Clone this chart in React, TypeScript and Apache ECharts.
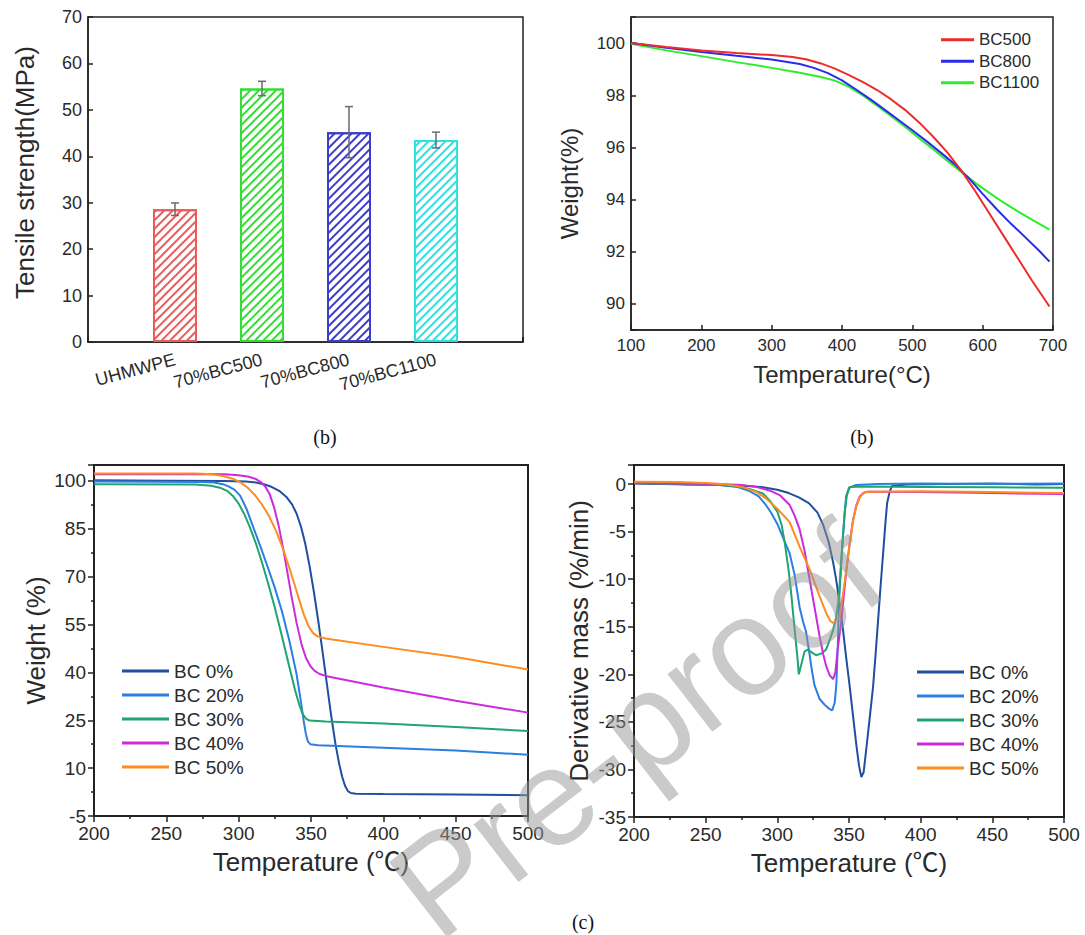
import React, { useEffect, useRef } from 'react';
import * as echarts from 'echarts';

// ---------- Panel A: tensile strength bars ----------
const barCategories = [' ', 'UHMWPE', '70%BC500', '70%BC800', '70%BC1100', '  '];
const barValues: (number | null)[] = [null, 28.6, 54.6, 45.2, 43.5, null];
const barErrors: (number | null)[] = [null, 1.35, 1.55, 5.5, 1.7, null];
const barColors = ['', '#e85c5c', '#33dd33', '#3d3dcc', '#2ee0e0', ''];

// ---------- Panel B: TGA of biochars ----------
const bNames = ['BC500', 'BC800', 'BC1100'];
const bColors = ['#ee2b2b', '#2b2bee', '#2bee2b'];
const bc500 = [[100,100],[150,99.85],[200,99.72],[250,99.62],[300,99.54],[330,99.47],[350,99.37],[370,99.22],[390,99.02],[410,98.77],[430,98.5],[450,98.2],[470,97.84],[490,97.43],[510,96.95],[530,96.4],[550,95.8],[570,95.1],[590,94.3],[610,93.45],[630,92.6],[650,91.75],[670,90.9],[695,89.9]];
const bc800 = [[100,100],[150,99.82],[200,99.66],[250,99.51],[300,99.37],[340,99.2],[360,99.05],[380,98.85],[400,98.57],[420,98.22],[440,97.85],[460,97.46],[480,97.06],[500,96.66],[520,96.24],[540,95.81],[560,95.36],[580,94.83],[600,94.22],[620,93.63],[640,93.08],[660,92.57],[680,92.05],[695,91.62]];
const bc1100 = [[100,99.97],[150,99.72],[200,99.5],[250,99.27],[300,99.05],[340,98.86],[370,98.7],[390,98.56],[410,98.32],[430,97.98],[450,97.6],[470,97.2],[490,96.78],[510,96.34],[530,95.92],[550,95.48],[570,95.05],[590,94.63],[610,94.25],[630,93.88],[650,93.55],[670,93.23],[695,92.85]];

// ---------- Panels C & D: composites ----------
const cdNames = ['BC 0%', 'BC 20%', 'BC 30%', 'BC 40%', 'BC 50%'];
const cdColors = ['#1f4f9e', '#2b7fe2', '#20a470', '#cc2bdd', '#ff8c1f'];

const wBC0 = [[200,100.2],[250,100.1],[290,100],[305,99.8],[312,99.5],[318,98.9],[323,98.1],[328,96.9],[333,95],[337,92.6],[340,89.8],[343,85.8],[346,80.4],[349,73.4],[352,65.2],[355,56.2],[358,46.4],[361,36.3],[364,26.3],[367,17.3],[369.5,11.3],[371.5,7.4],[373.5,4.5],[375.5,2.8],[377.5,2.2],[381,2.0],[400,1.9],[450,1.7],[500,1.5]];
const wBC20 = [[200,99.8],[275,99.7],[283,99.5],[289,99],[293,98.3],[297,97.3],[301,95.4],[305.5,91.2],[310,85.6],[315,79.5],[320,73.1],[325,66.5],[330,59],[335,50],[340,39.5],[343,31],[345,24.6],[346.5,20.6],[347.8,18.4],[349.5,17.5],[355,17.2],[400,16.4],[450,15.5],[500,14.2]];
const wBC30 = [[200,99.0],[270,98.9],[281,98.5],[287,97.9],[292,96.9],[296,95.3],[300,92.9],[304,89.5],[308,85.2],[312,80.3],[316,74.6],[320,68.5],[325,60.3],[330,51.2],[335,41.8],[339,34.4],[342,29.7],[344.5,26.8],[346.5,25.5],[349,24.9],[360,24.6],[400,24.0],[450,22.9],[500,21.6]];
const wBC40 = [[200,102.1],[270,102.2],[290,102.1],[300,101.8],[307,101.3],[312,100.6],[315.5,99.6],[318.5,98.2],[321.5,95.8],[324.5,91.7],[327.5,86.3],[330.5,79.5],[333.5,71.8],[336.5,64],[340,55.6],[343.5,48.7],[346.5,44.6],[349.5,42],[352.5,40.5],[356,39.5],[360,38.9],[400,35.3],[450,31.1],[500,27.4]];
const wBC50 = [[200,102.3],[270,102.3],[282,102.1],[290,101.5],[296,100.7],[301,99.6],[306,98],[311,95.7],[316,92.7],[321,89],[326,84.2],[331,78.3],[336,71.4],[341,64],[345,58.2],[348.5,54.3],[351.5,52.3],[354.5,51.3],[360,50.6],[400,48],[450,44.8],[500,40.9]];

const dBC0 = [[200,0.05],[220,0],[240,-0.05],[260,-0.1],[280,-0.2],[290,-0.35],[300,-0.6],[308,-0.95],[315,-1.4],[322,-2.0],[328,-3.0],[332,-4.3],[336,-6.2],[339,-8.3],[341,-10.0],[343,-12.1],[345.8,-15.3],[348,-18.2],[350.5,-21.3],[353,-24.6],[355.1,-27.4],[357,-29.6],[358.6,-30.8],[360.2,-30.3],[362.1,-27.8],[364.5,-24.5],[366.8,-21.3],[368.5,-18],[370.3,-14.3],[372,-10.8],[373.8,-7.3],[375.3,-4.3],[376.6,-2.0],[378.4,-0.8],[380,-0.2],[390,-0.05],[420,0],[450,0.05],[480,-0.05],[500,0]];
const dBC20 = [[200,0.1],[230,0],[260,-0.1],[272,-0.3],[280,-0.7],[287,-1.3],[292,-2.2],[296,-3.1],[300,-4.2],[305,-6.0],[308.6,-7.3],[312,-9.5],[315.6,-13],[318,-14.5],[320,-15.5],[322.6,-18.0],[324,-19.5],[326,-21.2],[329.5,-22.6],[333,-23.2],[336,-23.6],[338.2,-23.8],[340,-23.0],[341.2,-21],[342.2,-17],[343,-12.5],[344.5,-8.5],[345.8,-5.5],[347,-3],[348,-1.3],[350,-0.4],[355,-0.1],[370,0],[400,0.05],[450,0],[500,0.05]];
const dBC30 = [[200,0.1],[230,0],[260,-0.1],[270,-0.2],[280,-0.5],[290,-1.0],[295,-1.8],[300,-2.9],[303,-4.3],[305,-6],[308,-9.2],[310,-12],[312,-15.2],[314,-18.2],[315,-20],[317,-18.8],[319,-17.6],[321.4,-17.4],[324,-17.7],[327,-18],[331,-17.8],[334,-17.4],[337,-16.2],[339,-15.3],[341,-14],[342.5,-12.5],[344,-9.5],[345.5,-6],[347,-3],[348.5,-1.2],[350.5,-0.3],[360,-0.25],[400,-0.3],[450,-0.35],[500,-0.4]];
const dBC40 = [[200,0.1],[230,0.05],[260,0],[275,-0.1],[285,-0.3],[295,-0.7],[302,-1.2],[308.6,-2.2],[312,-3.3],[315.6,-4.8],[319,-7],[322.6,-10.1],[326,-13],[329.5,-16],[332,-17.9],[334.2,-19.2],[336.5,-20.1],[338.9,-20.5],[340.5,-19.8],[342,-17.5],[344.7,-14.3],[346.5,-11.5],[348.2,-9],[350.5,-6.2],[352.8,-3.8],[355,-2.3],[357.5,-1.3],[360,-0.95],[363,-0.8],[400,-0.85],[450,-0.95],[500,-1.05]];
const dBC50 = [[200,0.25],[230,0.2],[250,0.1],[265,-0.05],[275,-0.3],[285,-0.8],[292,-1.5],[300,-2.6],[308.6,-4],[315.6,-6.6],[322.6,-9],[329.5,-11.8],[334.2,-13.6],[337,-14.4],[338.9,-14.6],[341,-14.4],[343.5,-13.9],[345.5,-11.9],[348.2,-9.0],[350.5,-6.3],[352.8,-3.9],[355,-2.4],[357.5,-1.4],[360,-0.95],[363,-0.8],[400,-0.75],[450,-0.85],[500,-0.95]];

const weightSeries = [wBC0, wBC20, wBC30, wBC40, wBC50];
const dtgSeries = [dBC0, dBC20, dBC30, dBC40, dBC50];

const FONT = "'Liberation Sans', Arial, 'Noto Sans CJK SC', sans-serif";
const SERIF = "'Liberation Serif', 'Times New Roman', serif";
const AX = '#222';
const TXT = '#2a2a2a';

function axisBase(width: number) {
  return {
    axisLine: { show: true, onZero: false, lineStyle: { color: AX, width } },
    splitLine: { show: false },
    nameLocation: 'middle' as const,
  };
}

function buildOption() {
  const grids = [
    { left: 88, top: 17, width: 435, height: 325 },
    { left: 631, top: 17, width: 422, height: 313 },
    { left: 94, top: 465, width: 434, height: 351 },
    { left: 634, top: 465, width: 430, height: 352 },
  ].map((g, i) => ({ ...g, show: true, borderColor: AX, borderWidth: i < 2 ? 1.5 : 2, backgroundColor: 'transparent' }));

  const xAxis: any[] = [
    {
      ...axisBase(1.5), type: 'category', gridIndex: 0, data: barCategories, boundaryGap: false,
      axisTick: { show: true, inside: true, length: 5, interval: 0, lineStyle: { color: AX, width: 2 } },
      axisLabel: { interval: 0, rotate: 15, fontSize: 18, margin: 17, color: TXT, fontFamily: FONT },
    },
    {
      ...axisBase(1.5), type: 'value', gridIndex: 1, min: 100, max: 700, interval: 100,
      axisTick: { show: true, inside: true, length: 5, lineStyle: { color: AX, width: 1.5 } },
      axisLabel: { fontSize: 17, margin: 7, color: TXT, fontFamily: FONT },
      name: 'Temperature(°C)', nameGap: 32, nameTextStyle: { fontSize: 24, color: TXT, fontFamily: FONT },
    },
    ...[2, 3].map((gi) => ({
      ...axisBase(2), type: 'value', gridIndex: gi, min: 200, max: 500, interval: 50,
      axisTick: { show: true, inside: false, length: 6, lineStyle: { color: AX, width: 1.5 } },
      minorTick: { show: true, splitNumber: 2, length: 3, lineStyle: { color: AX, width: 1.5 } },
      axisLabel: { fontSize: 19, margin: 8, color: TXT, fontFamily: FONT },
      name: 'Temperature (℃)', nameGap: 33, nameTextStyle: { fontSize: 26, color: TXT, fontFamily: FONT },
    })),
  ];

  const yAxis: any[] = [
    {
      ...axisBase(1.5), type: 'value', gridIndex: 0, min: 0, max: 70, interval: 10,
      axisTick: { show: true, inside: true, length: 5, lineStyle: { color: AX, width: 1.5 } },
      axisLabel: { fontSize: 18, margin: 6, color: TXT, fontFamily: FONT },
      name: 'Tensile strength(MPa)', nameGap: 50,
      nameTextStyle: { fontSize: 26, color: TXT, fontFamily: FONT, padding: [0, 0, 0, 14] },
    },
    {
      ...axisBase(1.5), type: 'value', gridIndex: 1, min: 89, max: 101, minInterval: 2, maxInterval: 2, splitNumber: 6,
      axisTick: { show: true, inside: true, length: 5, lineStyle: { color: AX, width: 1.5 } },
      axisLabel: {
        fontSize: 17, margin: 6, color: TXT, fontFamily: FONT,
        formatter: (v: number) => (v >= 90 && v <= 100 && Math.abs(v % 2) < 1e-6 ? String(v) : ''),
      },
      name: 'Weight(%)', nameGap: 50,
      nameTextStyle: { fontSize: 24, color: TXT, fontFamily: FONT, padding: [0, 20, 0, 0] },
    },
    {
      ...axisBase(2), type: 'value', gridIndex: 2, min: -5, max: 105, interval: 15,
      axisTick: { show: true, inside: false, length: 6, lineStyle: { color: AX, width: 1.5 } },
      minorTick: { show: true, splitNumber: 2, length: 3, lineStyle: { color: AX, width: 1.5 } },
      axisLabel: { fontSize: 19, margin: 8, color: TXT, fontFamily: FONT, formatter: (v: number) => (v <= 100 ? String(v) : '') },
      name: 'Weight (%)', nameGap: 45, nameTextStyle: { fontSize: 26, color: TXT, fontFamily: FONT },
    },
    {
      ...axisBase(2), type: 'value', gridIndex: 3, min: -35, max: 2, interval: 5,
      axisTick: { show: true, inside: false, length: 6, lineStyle: { color: AX, width: 1.5 } },
      minorTick: { show: true, splitNumber: 2, length: 3, lineStyle: { color: AX, width: 1.5 } },
      axisLabel: { fontSize: 19, margin: 8, color: TXT, fontFamily: FONT, formatter: (v: number) => (v <= 0 ? String(v) : '') },
      name: 'Derivative mass (%/min)', nameGap: 42, nameTextStyle: { fontSize: 26, color: TXT, fontFamily: FONT },
    },
  ];

  const barData = barValues.map((v, i) =>
    v == null
      ? '-'
      : {
          value: v,
          itemStyle: {
            color: '#ffffff',
            borderColor: barColors[i],
            borderWidth: 2,
            decal: {
              symbol: 'rect', symbolSize: 1, dashArrayX: [1, 0], dashArrayY: [1.1, 4],
              rotation: -Math.PI / 4, color: barColors[i], backgroundColor: 'rgba(255,255,255,0)',
            },
          },
        }
  );

  const errData = barValues
    .map((v, i) => (v == null || barErrors[i] == null ? null : [i, v - (barErrors[i] as number), v + (barErrors[i] as number)]))
    .filter((d) => d !== null);

  const series: any[] = [
    { type: 'bar', name: 'Tensile strength', xAxisIndex: 0, yAxisIndex: 0, barWidth: 44, data: barData, z: 2 },
    {
      type: 'custom', name: 'error', xAxisIndex: 0, yAxisIndex: 0, data: errData, z: 5,
      encode: { x: 0, y: [1, 2] },
      renderItem: (params: any, api: any) => {
        const x = api.value(0);
        const lo = api.coord([x, api.value(1)]);
        const hi = api.coord([x, api.value(2)]);
        const w = 4;
        const st = { stroke: '#6a6a6a', lineWidth: 1.5 };
        return {
          type: 'group',
          children: [
            { type: 'line', shape: { x1: lo[0], y1: lo[1], x2: hi[0], y2: hi[1] }, style: st },
            { type: 'line', shape: { x1: lo[0] - w, y1: lo[1], x2: lo[0] + w, y2: lo[1] }, style: st },
            { type: 'line', shape: { x1: hi[0] - w, y1: hi[1], x2: hi[0] + w, y2: hi[1] }, style: st },
          ],
        };
      },
    },
  ];

  [bc500, bc800, bc1100].forEach((d, i) => {
    series.push({
      type: 'line', name: bNames[i], xAxisIndex: 1, yAxisIndex: 1, data: d, showSymbol: false, symbol: 'none',
      smooth: false, lineStyle: { color: bColors[i], width: 2 }, itemStyle: { color: bColors[i] }, z: 3 + (2 - i),
    });
  });
  weightSeries.forEach((d, i) => {
    series.push({
      type: 'line', name: cdNames[i], xAxisIndex: 2, yAxisIndex: 2, data: d, showSymbol: false, symbol: 'none',
      smooth: false, lineStyle: { color: cdColors[i], width: 2 }, itemStyle: { color: cdColors[i] },
    });
  });
  dtgSeries.forEach((d, i) => {
    series.push({
      type: 'line', name: cdNames[i], xAxisIndex: 3, yAxisIndex: 3, data: d, showSymbol: false, symbol: 'none',
      smooth: false, lineStyle: { color: cdColors[i], width: 2 }, itemStyle: { color: cdColors[i] },
    });
  });

  const legendBase = { orient: 'vertical', icon: 'rect', itemGap: 0, padding: 0, selectedMode: false };
  const legend = [
    { ...legendBase, data: bNames, left: 941, top: 29, itemWidth: 33, itemHeight: 3, textStyle: { fontSize: 17, lineHeight: 21.5, color: TXT, fontFamily: FONT } },
    { ...legendBase, data: cdNames, left: 122, top: 659, itemWidth: 47, itemHeight: 3, textStyle: { fontSize: 19, lineHeight: 24, color: TXT, fontFamily: FONT } },
    { ...legendBase, data: cdNames, left: 917, top: 660, itemWidth: 47, itemHeight: 3, textStyle: { fontSize: 19, lineHeight: 24, color: TXT, fontFamily: FONT } },
  ];

  const caption = (text: string, x: number, y: number) => ({
    type: 'text', x, y, silent: true,
    style: { text, fontSize: 20, fontFamily: SERIF, fill: '#111', align: 'center', verticalAlign: 'middle', textAlign: 'center', textVerticalAlign: 'middle' },
  });

  const graphic = [
    caption('(b)', 325, 437),
    caption('(b)', 862, 437),
    caption('(c)', 583, 922),
    {
      type: 'text', x: 636, y: 730, rotation: 0.66, z: 100, silent: true,
      style: {
        text: 'Pre-proof', fontSize: 138, fontFamily: FONT, fill: 'rgba(150,150,150,0.5)',
        align: 'center', verticalAlign: 'middle', textAlign: 'center', textVerticalAlign: 'middle',
      },
    },
  ];

  return { animation: false, backgroundColor: '#ffffff', grid: grids, xAxis, yAxis, series, legend, graphic };
}

export default function App() {
  const ref = useRef<HTMLDivElement>(null);
  useEffect(() => {
    document.body.style.margin = '0';
    const chart = echarts.init(ref.current as HTMLDivElement, null, { renderer: 'svg' });
    chart.setOption(buildOption() as any);
    return () => chart.dispose();
  }, []);
  return <div ref={ref} style={{ width: 1085, height: 935 }} />;
}
